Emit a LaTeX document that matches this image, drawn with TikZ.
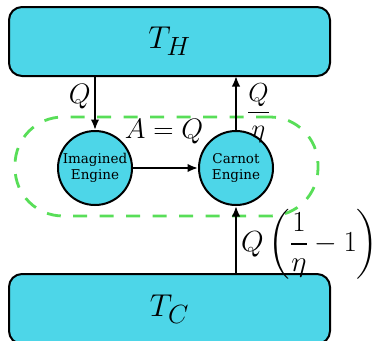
\documentclass[tikz,border=0pt]{standalone}
\usepackage{amsmath}
\usepackage{graphicx}
\usepackage{fontspec}
\newfontfamily\dvserif{DejaVu Serif}
\usetikzlibrary{arrows.meta}
\definecolor{boxfill}{RGB}{77,214,232}
\definecolor{grp}{RGB}{88,222,88}
\newcommand\lblscale[2]{\scalebox{#1}{#2}}
\tikzset{
  reservoir/.style={draw=black, line width=2pt, fill=boxfill, rounded corners=13pt,
    minimum width=321pt, minimum height=69pt, inner sep=0pt,
    font=\fontsize{24.88}{30}\selectfont},
  engine/.style={draw=black, line width=2pt, fill=boxfill, circle, minimum size=74pt,
    inner sep=0pt, align=center, font=\dvserif\fontsize{13.5}{15.5}\selectfont},
  flow/.style={line width=1.9pt, -{Latex[length=10.5pt,width=8.5pt]}},
  lbl/.style={font=\fontsize{24.88}{30}\selectfont, inner sep=0pt},
}
\begin{document}
\begin{tikzpicture}[x=1pt,y=-1pt]
\useasboundingbox (0,0) rectangle (382,340);
\node[draw=grp, line width=2.8pt, dash pattern=on 14pt off 12.5pt, rounded corners=48pt,
  minimum width=303pt, minimum height=99pt, inner sep=0pt] (group) at (166.5,166.5) {};
\node[reservoir] (th) at (169.5,41.5) {\lblscale{1.27}{$T_H$}};
\node[reservoir, minimum height=70pt] (tc) at (169.5,309) {\lblscale{1.27}{$T_C$}};
\node[engine] (ie) at (95,168) {Imagined\\Engine};
\node[engine] (ce) at (236,168) {Carnot\\Engine};
\coordinate (thl) at (95,76);
\coordinate (thr) at (236,76);
\coordinate (tcr) at (236,274);
\draw[flow] (thl) -- (ie.north);
\draw[flow] (ce.north) -- (thr);
\draw[flow] (ie.east) -- (ce.west);
\draw[flow] (tcr) -- (ce.south);
\node[lbl, anchor=east] (lq) at (91,97) {\lblscale{1.13}{$Q$}};
\node[lbl] (lqe) at (258.5,113) {\lblscale{1.05}{$\dfrac{Q}{\eta}$}};
\node[lbl] (la) at (164,132) {\lblscale{1.13}{$A=Q$}};
\node[lbl, anchor=west] (lqc) at (241,244) {\lblscale{1.17}{$Q\left(\dfrac{1}{\eta}-1\right)$}};
\end{tikzpicture}
\end{document}
